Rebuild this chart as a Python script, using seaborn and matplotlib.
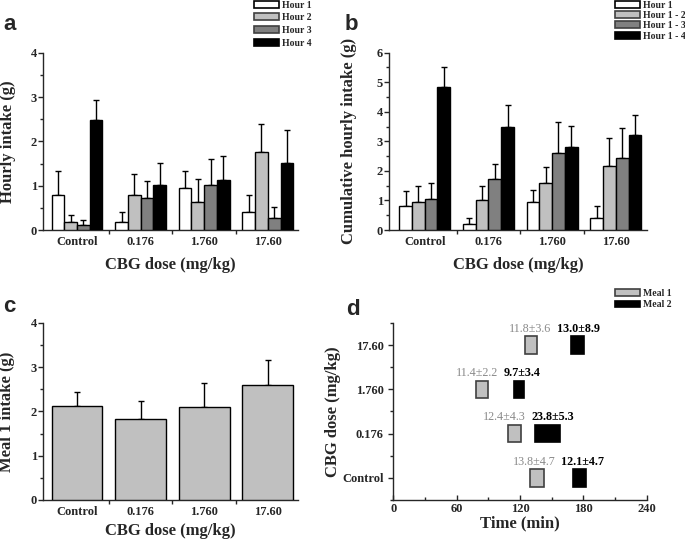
import numpy as np
import pandas as pd
import matplotlib
matplotlib.use('Agg')
import matplotlib.pyplot as plt
from matplotlib.patches import Patch
from matplotlib.ticker import MultipleLocator, FixedLocator
import seaborn as sns

# ---- data ----
doses = ['Control', '0.176', '1.760', '17.60']
hours = ['Hour 1', 'Hour 2', 'Hour 3', 'Hour 4']
cum_hours = ['Hour 1', 'Hour 1 - 2', 'Hour 1 - 3', 'Hour 1 - 4']

# rows = dose, cols = hour
hourly_mean = [[0.78, 0.17, 0.11, 2.49],
               [0.19, 0.79, 0.72, 1.01],
               [0.95, 0.63, 1.01, 1.13],
               [0.40, 1.77, 0.26, 1.51]]
hourly_err = [[0.54, 0.16, 0.11, 0.44],
              [0.21, 0.48, 0.39, 0.51],
              [0.39, 0.52, 0.59, 0.55],
              [0.39, 0.62, 0.27, 0.75]]

cum_mean = [[0.80, 0.95, 1.06, 4.85],
            [0.20, 1.00, 1.74, 3.47],
            [0.94, 1.59, 2.60, 2.81],
            [0.40, 2.17, 2.44, 3.21]]
cum_err = [[0.53, 0.55, 0.54, 0.68],
           [0.20, 0.49, 0.48, 0.75],
           [0.41, 0.53, 1.05, 0.71],
           [0.40, 0.95, 1.00, 0.68]]

meal1_intake = [2.12, 1.83, 2.10, 2.59]
meal1_intake_err = [0.32, 0.41, 0.54, 0.56]

# panel d (Control, 0.176, 1.760, 17.60)
meal1_start = [129, 109, 78, 124.5]
meal1_dur = [13.8, 12.4, 11.4, 11.8]
meal1_sd = [4.7, 4.3, 2.2, 3.6]
meal2_start = [170, 134.5, 114, 168]
meal2_dur = [12.1, 23.8, 9.7, 13.0]
meal2_sd = [4.7, 5.3, 3.4, 8.9]

bar_colors = ['white', '#c0c0c0', '#808080', 'black']

sns.set_style('ticks')
plt.rcParams['font.family'] = ['Liberation Serif', 'DejaVu Serif']
plt.rcParams['font.weight'] = 'bold'
plt.rcParams['axes.labelweight'] = 'bold'
plt.rcParams['axes.linewidth'] = 1.0

fig = plt.figure(figsize=(6.85, 5.44), dpi=100)
ax_a = fig.add_axes([0.0632, 0.5772, 0.3714, 0.3259])
ax_b = fig.add_axes([0.5683, 0.5772, 0.3758, 0.3259])
ax_c = fig.add_axes([0.0632, 0.0809, 0.3714, 0.3259])
ax_d = fig.add_axes([0.5742, 0.0809, 0.3699, 0.3254])


def long_df(means, errs, levels):
    rows = []
    for i, d in enumerate(doses):
        for j, h in enumerate(levels):
            rows.append({'dose': d, 'hour': h, 'val': means[i][j], 'err': errs[i][j]})
    return pd.DataFrame(rows)


def grouped(ax, means, errs, levels, ymax):
    df = long_df(means, errs, levels)
    sns.barplot(data=df, x='dose', y='val', hue='hour', hue_order=levels,
                palette=bar_colors, saturation=1, edgecolor='black', linewidth=1,
                errorbar=None, width=0.8, legend=False, ax=ax, zorder=3)
    offs = np.array([-0.3, -0.1, 0.1, 0.3])
    for j in range(len(levels)):
        sub = df[df['hour'] == levels[j]]
        x = np.arange(len(doses)) + offs[j]
        ax.errorbar(x, sub['val'], yerr=[np.zeros(len(sub)), sub['err']],
                    fmt='none', ecolor='black', elinewidth=1, capsize=2.2,
                    capthick=1, zorder=2)
    ax.set_ylim(0, ymax)
    ax.yaxis.set_major_locator(MultipleLocator(1))


def style_bar_axis(ax, xlim):
    ax.set_xlim(*xlim)
    sns.despine(ax=ax)
    ax.tick_params(axis='x', which='major', length=0, labelsize=9, pad=4)
    ax.xaxis.set_minor_locator(FixedLocator([0.5, 1.5, 2.5]))
    ax.tick_params(axis='x', which='minor', length=3, width=1, direction='out')
    ax.yaxis.set_minor_locator(MultipleLocator(0.5))
    ax.tick_params(axis='y', which='major', length=3.5, width=1, labelsize=9, pad=1)
    ax.tick_params(axis='y', which='minor', length=2, width=1)


def place_labels(ax, xl, yl, xy, yx):
    ax.set_xlabel(xl, fontsize=12)
    ax.set_ylabel(yl, fontsize=12)
    ax.xaxis.label.set_va('center')
    ax.yaxis.label.set_va('center')
    ax.xaxis.set_label_coords(0.5, xy)
    ax.yaxis.set_label_coords(yx, 0.5)


# ---- panel a ----
grouped(ax_a, hourly_mean, hourly_err, hours, 4)
style_bar_axis(ax_a, (-0.53, 3.47))
place_labels(ax_a, 'CBG dose (mg/kg)', 'Hourly intake (g)', -0.197, -0.138)

# ---- panel b ----
grouped(ax_b, cum_mean, cum_err, cum_hours, 6)
style_bar_axis(ax_b, (-0.556, 3.485))
place_labels(ax_b, 'CBG dose (mg/kg)', 'Cumulative hourly intake (g)', -0.197, -0.157)

# ---- panel c ----
sns.barplot(x=doses, y=meal1_intake, color='#c0c0c0', saturation=1,
            edgecolor='black', linewidth=1, width=0.8, errorbar=None, ax=ax_c, zorder=3)
ax_c.errorbar(np.arange(len(doses)), meal1_intake,
              yerr=[np.zeros(len(doses)), meal1_intake_err],
              fmt='none', ecolor='black', elinewidth=1, capsize=2.2, capthick=1, zorder=2)
ax_c.set_ylim(0, 4)
ax_c.yaxis.set_major_locator(MultipleLocator(1))
style_bar_axis(ax_c, (-0.53, 3.47))
place_labels(ax_c, 'CBG dose (mg/kg)', 'Meal 1 intake (g)', -0.175, -0.141)

# ---- panel d ----
ypos = np.arange(len(doses))
ax_d.barh(ypos, meal1_dur, left=meal1_start, height=0.4, color='#c0c0c0',
          edgecolor='#404040', linewidth=1.2, zorder=3)
ax_d.barh(ypos, meal2_dur, left=meal2_start, height=0.4, color='black',
          edgecolor='black', linewidth=1.2, zorder=3)
for i in range(len(doses)):
    # labels meet in the middle of the gap between the two meals
    mid = (meal1_start[i] + meal1_dur[i] + meal2_start[i]) / 2
    ax_d.annotate(f'{meal1_dur[i]:.1f}\u00b1{meal1_sd[i]:.1f}', (mid, ypos[i] + 0.23),
                  xytext=(-2, 0), textcoords='offset points', ha='right', va='bottom',
                  fontsize=8.7, color='#8a8a8a', fontweight='normal')
    ax_d.annotate(f'{meal2_dur[i]:.1f}\u00b1{meal2_sd[i]:.1f}', (mid, ypos[i] + 0.23),
                  xytext=(2, 0), textcoords='offset points', ha='left', va='bottom',
                  fontsize=8.7, color='black', fontweight='bold')
ax_d.set_xlim(0, 240)
ax_d.set_ylim(-0.5, 3.5)
ax_d.set_yticks(ypos)
ax_d.set_yticklabels(doses)
ax_d.xaxis.set_major_locator(MultipleLocator(60))
ax_d.xaxis.set_minor_locator(MultipleLocator(30))
ax_d.yaxis.set_minor_locator(FixedLocator([-0.5, 0.5, 1.5, 2.5, 3.5]))
sns.despine(ax=ax_d)
ax_d.tick_params(axis='y', which='major', length=3.5, width=1, labelsize=9)
ax_d.tick_params(axis='x', which='major', length=3.5, width=1, labelsize=9,
                 direction='in', pad=2)
ax_d.tick_params(axis='x', which='minor', length=2, width=1, direction='in')
ax_d.tick_params(axis='y', which='minor', length=2, width=1)
place_labels(ax_d, 'Time (min)', 'CBG dose (mg/kg)', -0.135, -0.240)

# ---- legends ----
def add_legend(ax, labels, colors, edges, x, y, spacing):
    handles = [Patch(facecolor=c, edgecolor=e, linewidth=1.2) for c, e in zip(colors, edges)]
    ax.legend(handles, labels, loc='upper left', bbox_to_anchor=(x, y),
              bbox_transform=fig.transFigure, frameon=False, fontsize=7,
              handlelength=2.6, handleheight=0.7, handletextpad=0.25,
              labelspacing=spacing, borderpad=0, borderaxespad=0)

edges4 = ['black', '#404040', '#404040', 'black']
add_legend(ax_a, hours, bar_colors, edges4, 254 / 685, 1 - 0.5 / 544, 0.38)
add_legend(ax_b, cum_hours, bar_colors, edges4, 615 / 685, 1 - 0.5 / 544, 0.14)
add_legend(ax_d, ['Meal 1', 'Meal 2'], ['#c0c0c0', 'black'], ['#404040', 'black'],
           615 / 685, 1 - 288.5 / 544, 0.3)

# ---- panel letters ----
for letter, x, y in [('a', 3, 30), ('b', 345, 30), ('c', 3, 312), ('d', 346, 315)]:
    fig.text(x / 685, 1 - y / 544, letter, fontsize=16, fontweight='bold',
             family=['Liberation Sans', 'DejaVu Sans'], ha='left', va='baseline')

fig.savefig('out.png', dpi=100)
